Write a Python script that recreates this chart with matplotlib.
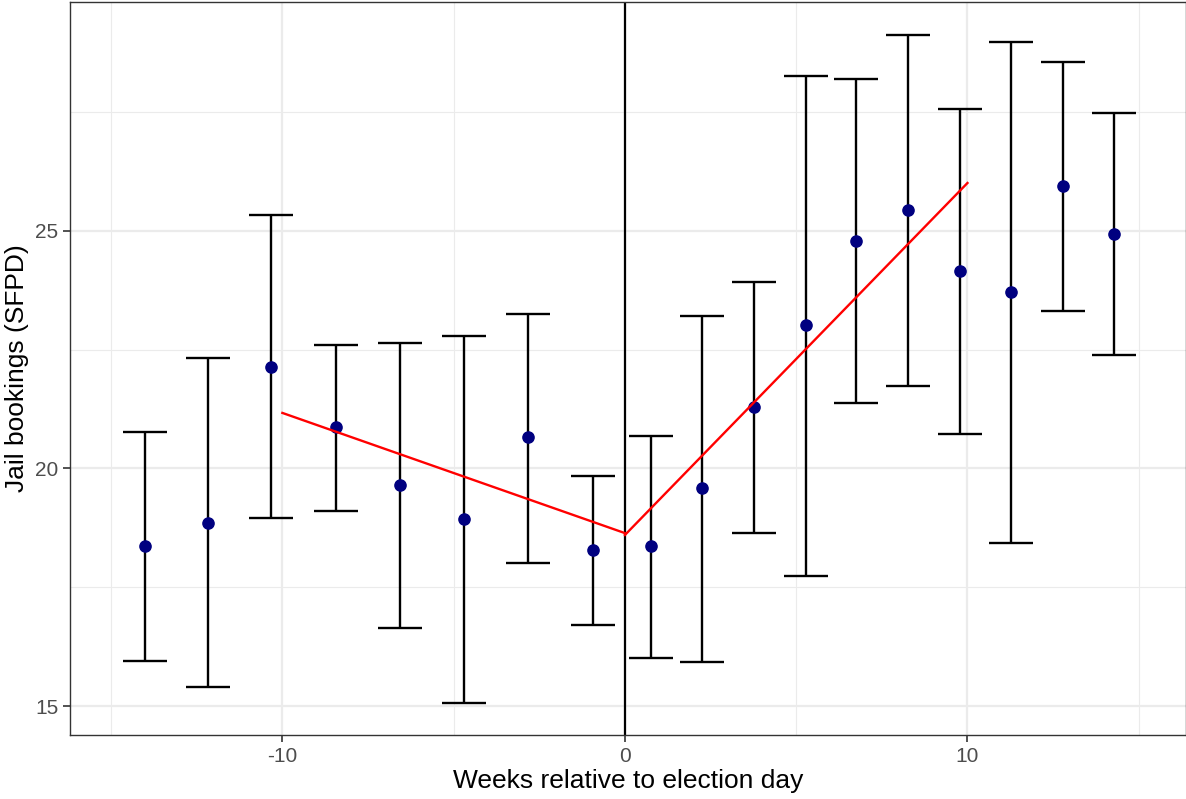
import numpy as np
import matplotlib.pyplot as plt

plt.rcParams['font.family'] = ['Liberation Sans', 'DejaVu Sans']
plt.rcParams['axes.unicode_minus'] = False

# Binned estimates: weeks relative to election day
weeks = [-14.0, -12.18, -10.34, -8.44, -6.57, -4.70, -2.83, -0.93,
         0.76, 2.25, 3.77, 5.28, 6.74, 8.26, 9.78, 11.27, 12.79, 14.28]
bookings = [18.37, 18.85, 22.14, 20.87, 19.65, 18.94, 20.66, 18.28,
            18.37, 19.59, 21.29, 23.02, 24.79, 25.44, 24.16, 23.72, 25.95, 24.94]
upper = [20.77, 22.33, 25.34, 22.60, 22.64, 22.79, 23.25, 19.84,
         20.68, 23.21, 23.93, 28.26, 28.20, 29.13, 27.57, 28.98, 28.56, 27.48]
lower = [15.95, 15.40, 18.96, 19.10, 16.64, 15.06, 18.01, 16.71,
         16.01, 15.93, 18.64, 17.74, 21.38, 21.74, 20.73, 18.43, 23.32, 22.39]

# Fitted linear trends before / after election
fit_pre_x = [-10, 0]
fit_pre_y = [21.17, 18.64]
fit_post_x = [0, 10]
fit_post_y = [18.60, 26.01]

fig = plt.figure(figsize=(11.86, 7.99), dpi=100)
ax = fig.add_axes([70 / 1186, 64 / 799, 1 - 70 / 1186, 733 / 799])

y = np.array(bookings)
yerr = [y - np.array(lower), np.array(upper) - y]

ax.errorbar(weeks, bookings, yerr=yerr, fmt='none', ecolor='black',
            elinewidth=1.7, capsize=16, capthick=1.7, zorder=3)
ax.scatter(weeks, bookings, s=65, color='#000080', zorder=4)
ax.plot(fit_pre_x, fit_pre_y, color='red', lw=1.7, zorder=5)
ax.plot(fit_post_x, fit_post_y, color='red', lw=1.7, zorder=5)
ax.axvline(0, color='black', lw=1.6, zorder=2)

ax.set_xlim(-16.2, 16.38)
ax.set_ylim(14.39, 29.82)
ax.set_xticks([-10, 0, 10])
ax.set_yticks([15, 20, 25])
ax.set_xticks([-15, -5, 5, 15], minor=True)
ax.set_yticks([17.5, 22.5, 27.5], minor=True)

ax.grid(which='major', color='#EBEBEB', lw=1.6, zorder=0)
ax.grid(which='minor', color='#EBEBEB', lw=0.8, zorder=0)
ax.set_axisbelow(True)

ax.tick_params(which='major', length=5, width=1.2, color='#333333',
               labelsize=15, labelcolor='#4D4D4D')
ax.tick_params(which='minor', length=0)
for s in ax.spines.values():
    s.set_color('#333333')
    s.set_linewidth(1.0)

ax.set_xlabel('Weeks relative to election day', fontsize=19, labelpad=2)
ax.set_ylabel('Jail bookings (SFPD)', fontsize=19, labelpad=4)

fig.savefig('out.png', dpi=100)
